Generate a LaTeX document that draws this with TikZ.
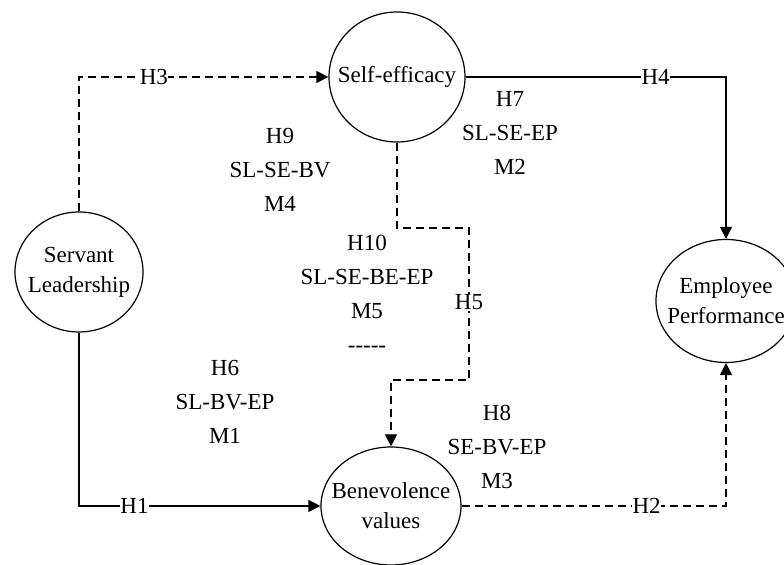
\documentclass[tikz,border=0pt]{standalone}
\usepackage{fontspec}
\setmainfont{Liberation Serif}
\usetikzlibrary{shapes.geometric,arrows.meta}

\begin{document}
\begin{tikzpicture}[x=0.5pt,y=-0.5pt,
        var/.style={draw, ellipse, inner sep=0pt, line width=0.6pt},
        vtext/.style={align=center, inner sep=0pt, font=\fontsize{11.5}{15}\selectfont},
        link/.style={line width=0.6pt, -{Triangle[length=6pt,width=6pt]}},
        dashline/.style={dash pattern=on 4pt off 2.5pt},
        hyp/.style={fill=white, inner sep=0.3pt, font=\fontsize{11.5}{13}\selectfont},
        med/.style={align=center, font=\fontsize{11.5}{17}\selectfont}]
        \useasboundingbox (0,0) rectangle (784,565);

        \node[var, minimum width=64pt, minimum height=60pt, label={[vtext]center:{Servant\\Leadership}}] (sl) at (79,272) {};
        \node[var, minimum width=68pt, minimum height=65pt, label={[vtext]center:{Self-efficacy}}] (se) at (397,77) {};
        \node[var, minimum width=70pt, minimum height=59pt, label={[vtext]center:{Benevolence\\values}}] (bv) at (391,506) {};
        \node[var, minimum width=70pt, minimum height=61.5pt, label={[vtext]center:{Employee\\Performance}}] (ep) at (726,301) {};

        \node[med] (m9) at (280,170) {H9\\SL-SE-BV\\M4};
        \node[med] (m7) at (510,133) {H7\\SL-SE-EP\\M2};
        \node[med] (m10) at (367,294) {H10\\SL-SE-BE-EP\\M5\\{-}{-}{-}{-}{-}};
        \node[med] (m6) at (225,402) {H6\\SL-BV-EP\\M1};
        \node[med] (m8) at (497,447) {H8\\SE-BV-EP\\M3};

        \coordinate (k1) at (469,228);
        \coordinate (k2) at (391,380);

        \draw[link, dashline] (sl.north) |- node[hyp, pos=0.65] {H3} (se.west);
        \draw[link] (se.east) -| node[hyp, pos=0.365] {H4} (ep.north);
        \draw[link] (sl.south) |- node[hyp, pos=0.615] {H1} (bv.west);
        \draw[link, dashline] (bv.east) -| node[hyp, pos=0.35] {H2} (ep.south);
        \draw[link, dashline] (se.south) |- (k1) |- node[hyp, pos=0.245] {H5} (k2) -- (bv.north);
    \end{tikzpicture}
\end{document}
